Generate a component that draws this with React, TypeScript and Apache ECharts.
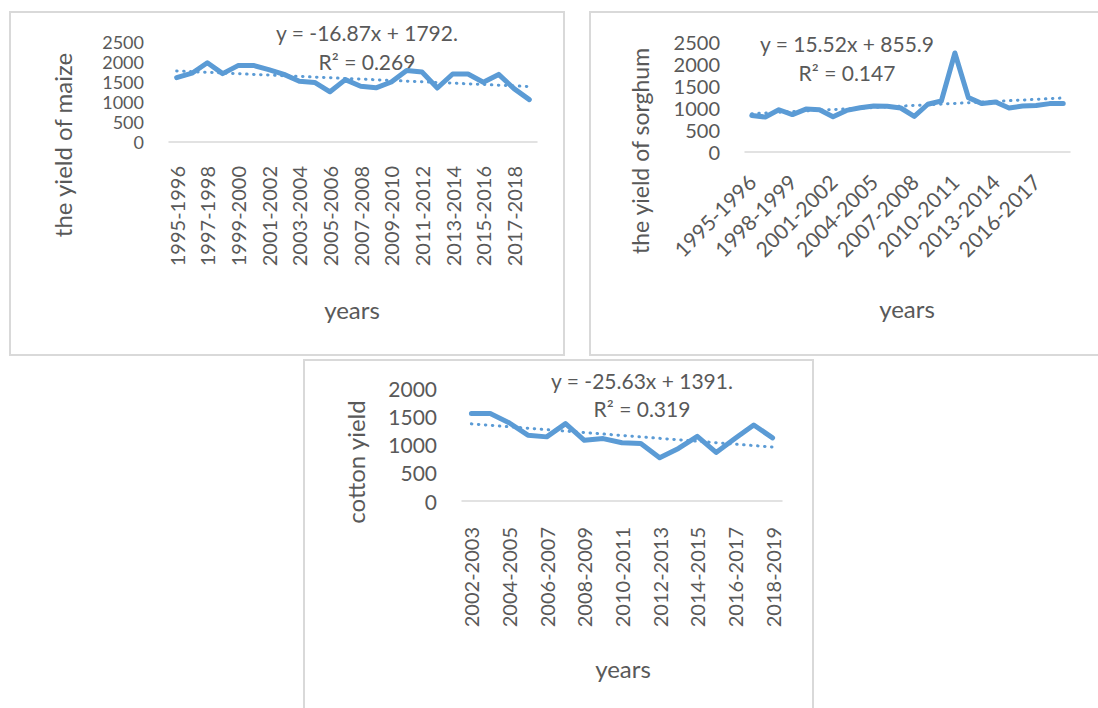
import React, { useEffect, useRef } from "react";
import * as echarts from "echarts";

// Maize yield, seasons 1995-1996 .. 2018-2019
const maizeSeasons = [
  "1995-1996", "1996-1997", "1997-1998", "1998-1999", "1999-2000", "2000-2001",
  "2001-2002", "2002-2003", "2003-2004", "2004-2005", "2005-2006", "2006-2007",
  "2007-2008", "2008-2009", "2009-2010", "2010-2011", "2011-2012", "2012-2013",
  "2013-2014", "2014-2015", "2015-2016", "2016-2017", "2017-2018", "2018-2019",
];
const maizeYield = [
  1610, 1720, 1980, 1710, 1910, 1915, 1810, 1690, 1520, 1490, 1255, 1560,
  1395, 1355, 1500, 1790, 1750, 1350, 1700, 1700, 1495, 1690, 1335, 1060,
];
const maizeTrend = { slope: -16.87, intercept: 1792, r2: "0.269" };

// Sorghum yield, seasons 1995-1996 .. 2018-2019
const sorghumSeasons = [
  "1995-1996", "1996-1997", "1997-1998", "1998-1999", "1999-2000", "2000-2001",
  "2001-2002", "2002-2003", "2003-2004", "2004-2005", "2005-2006", "2006-2007",
  "2007-2008", "2008-2009", "2009-2010", "2010-2011", "2011-2012", "2012-2013",
  "2013-2014", "2014-2015", "2015-2016", "2016-2017", "2017-2018", "2018-2019",
];
const sorghumYield = [
  830, 795, 960, 850, 975, 960, 800, 945, 1005, 1045, 1040, 1000,
  810, 1085, 1160, 2250, 1235, 1100, 1135, 1000, 1045, 1055, 1100, 1100,
];
const sorghumTrend = { slope: 15.52, intercept: 855.9, r2: "0.147" };

// Cotton yield, seasons 2002-2003 .. 2018-2019
const cottonSeasons = [
  "2002-2003", "2003-2004", "2004-2005", "2005-2006", "2006-2007", "2007-2008",
  "2008-2009", "2009-2010", "2010-2011", "2011-2012", "2012-2013", "2013-2014",
  "2014-2015", "2015-2016", "2016-2017", "2017-2018", "2018-2019",
];
const cottonYield = [
  1550, 1550, 1385, 1165, 1135, 1370, 1075, 1105, 1030, 1018, 765, 930,
  1145, 860, 1105, 1345, 1118,
];
const cottonTrend = { slope: -25.63, intercept: 1391, r2: "0.319" };

const FONT = "Lato, 'Open Sans', sans-serif";
const TEXT = "#595959";
const BLUE = "#5B9BD5";
const BORDER = "#D9D9D9";

// Linear trend evaluated at x = 1..n, as Excel numbers the points
const trendValues = (n: number, t: { slope: number; intercept: number }) =>
  Array.from({ length: n }, (_, i) => +(t.slope * (i + 1) + t.intercept).toFixed(2));

const label = (text: string, x: number, y: number, size: number, rotate = 0) => ({
  type: "text",
  x,
  y,
  rotation: rotate,
  style: {
    text,
    fill: TEXT,
    font: `${size}px ${FONT}`,
    align: "center",
    verticalAlign: "middle",
  },
});

const box = (x: number, y: number, w: number, h: number) => ({
  type: "rect",
  shape: { x, y, width: w, height: h },
  style: { fill: "none", stroke: BORDER, lineWidth: 2 },
  silent: true,
});

export default function App() {
  const ref = useRef<HTMLDivElement>(null);

  useEffect(() => {
    if (!ref.current) return;
    const chart = echarts.init(ref.current, null, { renderer: "svg" });

    const xAxisBase = (
      idx: number,
      data: string[],
      rotate: number,
      interval: number,
      margin: number,
      fontSize: number
    ) => ({
      type: "category",
      gridIndex: idx,
      data,
      boundaryGap: true,
      axisLine: { show: true, lineStyle: { color: BORDER, width: 1.5 } },
      axisTick: { show: false },
      splitLine: { show: false },
      axisLabel: {
        rotate,
        interval,
        margin,
        color: TEXT,
        fontFamily: FONT,
        fontSize,
      },
    });

    const yAxisBase = (idx: number, max: number, fontSize: number) => ({
      type: "value",
      gridIndex: idx,
      min: 0,
      max,
      interval: 500,
      axisLine: { show: false },
      axisTick: { show: false },
      splitLine: { show: false },
      axisLabel: {
        color: TEXT,
        fontFamily: FONT,
        fontSize,
        lineHeight: fontSize,
        margin: 25,
        showMinLabel: true,
        showMaxLabel: true,
        hideOverlap: false,
        formatter: (v: number) => String(v),
      },
    });

    const dataLine = (idx: number, data: number[]) => ({
      type: "line",
      xAxisIndex: idx,
      yAxisIndex: idx,
      data,
      symbol: "none",
      z: 2,
      lineStyle: { color: BLUE, width: 5, join: "round", cap: "round" },
    });

    const trendLine = (idx: number, data: number[]) => ({
      type: "line",
      xAxisIndex: idx,
      yAxisIndex: idx,
      data,
      symbol: "none",
      z: 3,
      lineStyle: { color: BLUE, width: 3, type: [0.5, 6.5], cap: "round" },
    });

    chart.setOption({
      animation: false,
      backgroundColor: "#ffffff",
      grid: [
        { left: 169, top: 42, width: 368, height: 100 },
        { left: 745, top: 42, width: 325, height: 110 },
        { left: 462, top: 388, width: 320, height: 113 },
      ],
      xAxis: [
        xAxisBase(0, maizeSeasons, 90, 1, 24, 20),
        xAxisBase(1, sorghumSeasons, 45, 2, 26, 21),
        xAxisBase(2, cottonSeasons, 90, 1, 26, 20),
      ],
      yAxis: [
        yAxisBase(0, 2500, 18),
        yAxisBase(1, 2500, 20),
        yAxisBase(2, 2000, 21),
      ],
      series: [
        dataLine(0, maizeYield),
        trendLine(0, trendValues(maizeYield.length, maizeTrend)),
        dataLine(1, sorghumYield),
        trendLine(1, trendValues(sorghumYield.length, sorghumTrend)),
        dataLine(2, cottonYield),
        trendLine(2, trendValues(cottonYield.length, cottonTrend)),
      ],
      graphic: [
        box(10, 12, 554, 343),
        box(590, 12, 520, 343),
        box(304, 360, 509, 360),
        label("y = -16.87x + 1792.", 367, 32, 21),
        label(`R² = ${maizeTrend.r2}`, 367, 61, 21),
        label("y = 15.52x + 855.9", 847, 43, 21),
        label(`R² = ${sorghumTrend.r2}`, 847, 72, 21),
        label("y = -25.63x + 1391.", 642, 380, 21),
        label(`R² = ${cottonTrend.r2}`, 642, 408, 21),
        label("the yield of maize", 62, 145, 24, Math.PI / 2),
        label("the yield of sorghum", 640, 151, 23, Math.PI / 2),
        label("cotton yield", 355, 462, 24, Math.PI / 2),
        label("years", 352, 309, 24),
        label("years", 907, 308, 24),
        label("years", 623, 668, 24),
      ],
    });

    return () => chart.dispose();
  }, []);

  return (
    <div
      ref={ref}
      style={{ position: "absolute", left: 0, top: 0, width: 1098, height: 708, background: "#fff" }}
    />
  );
}
